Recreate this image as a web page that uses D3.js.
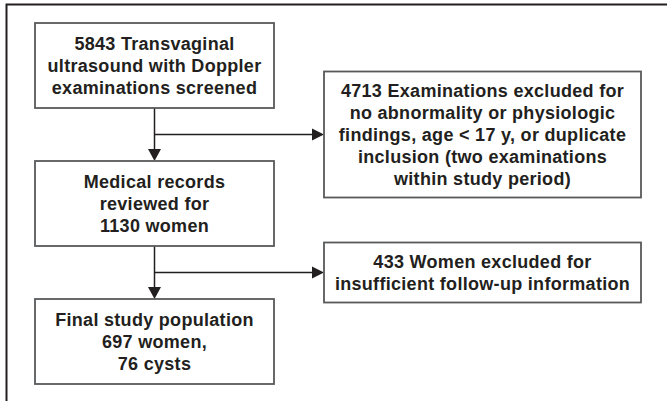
<!DOCTYPE html>
<html>
<head>
<meta charset="utf-8">
<script src="https://cdn.jsdelivr.net/npm/d3@7"></script>
<style>
  body { margin: 0; background: #fff; }
  svg text { font-family: "Liberation Sans", Arial, sans-serif; font-weight: bold; font-size: 18px; letter-spacing: 0.3px; fill: #231f20; }
</style>
</head>
<body>
<div id="chart"></div>
<script>
// flow steps (main column) and the exclusions branching off between them
var stepLabels = [
  ["5843 Transvaginal", "ultrasound with Doppler", "examinations screened"],
  ["Medical records", "reviewed for", "1130 women"],
  ["Final study population", "697 women,", "76 cysts"]
];
var exclusionLabels = [
  ["4713 Examinations excluded for", "no abnormality or physiologic", "findings, age < 17 y, or duplicate", "inclusion (two examinations", "within study period)"],
  ["433 Women excluded for", "insufficient follow-up information"]
];

var width = 667, height = 401,
    lineH = 22,
    boxH = 85,
    main = {x0: 35, x1: 274},
    side = {x0: 324, x1: 641},
    ink = "#231f20", boxStroke = "#58595b";

var svg = d3.select("#chart").append("svg")
    .attr("width", width)
    .attr("height", height);

var y = d3.scaleLinear().domain([0, stepLabels.length - 1]).range([23, 299]);
var cx = (main.x0 + main.x1) / 2;

// outer frame (only top and left edges show)
svg.append("path")
    .attr("d", "M6.5," + height + "V4.5H" + width)
    .attr("fill", "none")
    .attr("stroke", ink)
    .attr("stroke-width", 2);

function textBlock(g, lines, x, midY) {
  var t = g.append("text").attr("text-anchor", "middle");
  var first = midY - (lines.length - 1) * lineH / 2 + 6;
  lines.forEach(function(l, i) {
    t.append("tspan").attr("x", x).attr("y", first + i * lineH).text(l);
  });
}

// connectors first, boxes over them
exclusionLabels.forEach(function(lines, i) {
  var top = y(i) + boxH, bottom = y(i + 1), by = (top + bottom) / 2;
  svg.append("line")
      .attr("x1", cx).attr("x2", cx).attr("y1", top).attr("y2", bottom - 11)
      .attr("stroke", ink).attr("stroke-width", 1.5);
  svg.append("path")
      .attr("d", "M" + (cx - 6.5) + "," + (bottom - 12) + "L" + (cx + 6.5) + "," + (bottom - 12) + "L" + cx + "," + bottom + "Z")
      .attr("fill", ink);
  svg.append("line")
      .attr("x1", cx).attr("x2", side.x0 - 10).attr("y1", by).attr("y2", by)
      .attr("stroke", ink).attr("stroke-width", 1.5);
  svg.append("path")
      .attr("d", "M" + (side.x0 - 12) + "," + (by - 6) + "L" + (side.x0 - 12) + "," + (by + 6) + "L" + side.x0 + "," + by + "Z")
      .attr("fill", ink);

  var h = lines.length * lineH + 16;
  var g = svg.append("g");
  g.append("rect")
      .attr("x", side.x0).attr("y", by - h / 2)
      .attr("width", side.x1 - side.x0).attr("height", h)
      .attr("fill", "#fff").attr("stroke", boxStroke).attr("stroke-width", 1.8);
  textBlock(g, lines, (side.x0 + side.x1) / 2, by);
});

stepLabels.forEach(function(lines, i) {
  var g = svg.append("g");
  g.append("rect")
      .attr("x", main.x0).attr("y", y(i))
      .attr("width", main.x1 - main.x0).attr("height", boxH)
      .attr("fill", "#fff").attr("stroke", boxStroke).attr("stroke-width", 1.8);
  textBlock(g, lines, cx, y(i) + boxH / 2);
});
</script>
</body>
</html>
